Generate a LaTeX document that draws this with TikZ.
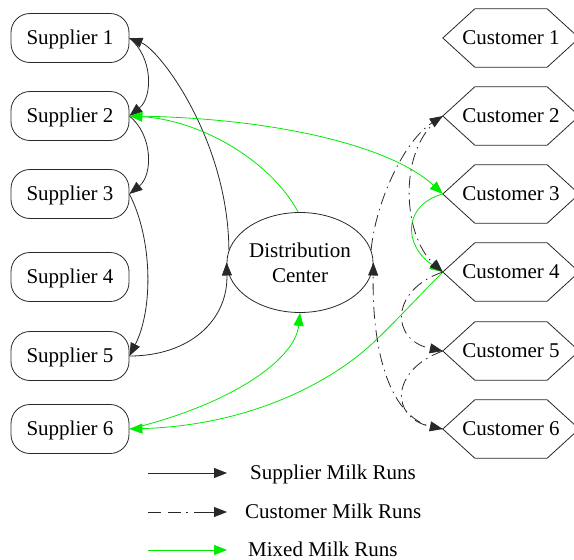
\documentclass[tikz,border=0pt]{standalone}
\usepackage{fontspec}
\setmainfont{Liberation Serif}
\usetikzlibrary{arrows.meta,shapes.geometric}
\definecolor{mixgreen}{RGB}{0,235,0}
\definecolor{inkline}{RGB}{40,40,40}
\begin{document}
\begin{tikzpicture}[x=1pt,y=-1pt,
  every node/.style={font=\fontsize{21}{25}\selectfont},
  lbl/.style={text height=14pt, text depth=2pt},
  supplier/.style={lbl, draw=inkline, line width=0.8pt, rounded corners=19pt, minimum width=118pt, minimum height=49pt, inner sep=0pt},
  customer/.style={lbl, minimum width=136pt, minimum height=58pt, inner sep=0pt},
  hexline/.style={draw=inkline, line width=0.8pt},
  hub/.style={draw=inkline, line width=0.8pt, ellipse, minimum width=146pt, minimum height=100pt, inner sep=0pt, align=center},
  solidrun/.style={draw=inkline, line width=0.8pt, -{Triangle[length=13pt,width=10pt]}},
  custrun/.style={solidrun, dash pattern=on 12pt off 5pt on 1.5pt off 5pt},
  mixrun/.style={line width=0.8pt, draw=mixgreen, -{Triangle[length=13pt,width=10pt]}},
  legendtext/.style={lbl, anchor=west, inner sep=0pt}
]
\useasboundingbox (0,0) rectangle (574,560);

% suppliers
\node[supplier] (s1) at (70,38)  {Supplier 1};
\node[supplier] (s2) at (70,116) {Supplier 2};
\node[supplier] (s3) at (70,194) {Supplier 3};
\node[supplier] (s4) at (70,277) {Supplier 4};
\node[supplier] (s5) at (70,356) {Supplier 5};
\node[supplier] (s6) at (70,429) {Supplier 6};

% customers
\foreach \i/\yy in {1/38,2/116,3/194,4/272,5/351,6/429}{
  \node[customer] (c\i) at (511,\yy) {Customer \i};
  \draw[hexline] (c\i.west) -- ([xshift=32pt]c\i.north west) -- ([xshift=-32pt]c\i.north east)
     -- (c\i.east) -- ([xshift=-32pt]c\i.south east) -- ([xshift=32pt]c\i.south west) -- cycle;
}

% distribution center
\node[hub] (dc) at (300,262.5) {Distribution\\Center};

% supplier milk runs
\draw[solidrun] (s1.east) .. controls (153,57) and (153,97) .. (s2.east);
\draw[solidrun] (s2.east) .. controls (153,135) and (153,175) .. (s3.east);
\draw[solidrun] (s3.east) .. controls (153,240) and (153,310) .. (s5.east);
\draw[solidrun] (s5.east) .. controls (190,356) and (228,320) .. (dc.west);
\draw[solidrun] (dc.170) .. controls (228,140) and (160,50) .. (s1.east);

% mixed milk runs
\draw[mixrun] (dc.92) .. controls (270,160) and (200,120) .. (s2.east);
\draw[mixrun] (s2.east) .. controls (270,117) and (390,145) .. (c3.west);
\draw[mixrun] (c3.west) .. controls (403,205) and (403,245) .. (c4.west);
\draw[mixrun] (c4.west) .. controls (420,295) and (395,322) .. (375,341)
   .. controls (340,375) and (260,425) .. (s6.east);
\draw[mixrun] (s6.east) .. controls (230,405) and (295,360) .. (dc.south);

% customer milk runs
\draw[custrun] (dc.10) .. controls (376,200) and (405,140) .. (c2.west);
\draw[custrun] (c2.west) .. controls (397,145) and (402,235) .. (c4.west);
\draw[custrun] (c4.west) .. controls (390,290) and (390,340) .. (c5.west);
\draw[custrun] (c5.west) .. controls (390,370) and (390,418) .. (c6.west);
\draw[custrun] (c6.west) .. controls (385,425) and (372,340) .. (dc.east);

% legend
\coordinate (k1a) at (148,473); \coordinate (k1b) at (227,473);
\coordinate (k2a) at (148,512); \coordinate (k2b) at (227,512);
\coordinate (k3a) at (148,550); \coordinate (k3b) at (227,550);
\draw[solidrun] (k1a) -- (k1b);
\draw[solidrun, dash pattern=on 13pt off 7pt on 13pt off 5pt on 2pt off 6pt on 40pt] (k2a) -- (k2b);
\draw[mixrun] (k3a) -- (k3b);
\node[legendtext] (t1) at (250,473) {Supplier Milk Runs};
\node[legendtext] (t2) at (245,512) {Customer Milk Runs};
\node[legendtext] (t3) at (248,550) {Mixed Milk Runs};
\end{tikzpicture}
\end{document}
